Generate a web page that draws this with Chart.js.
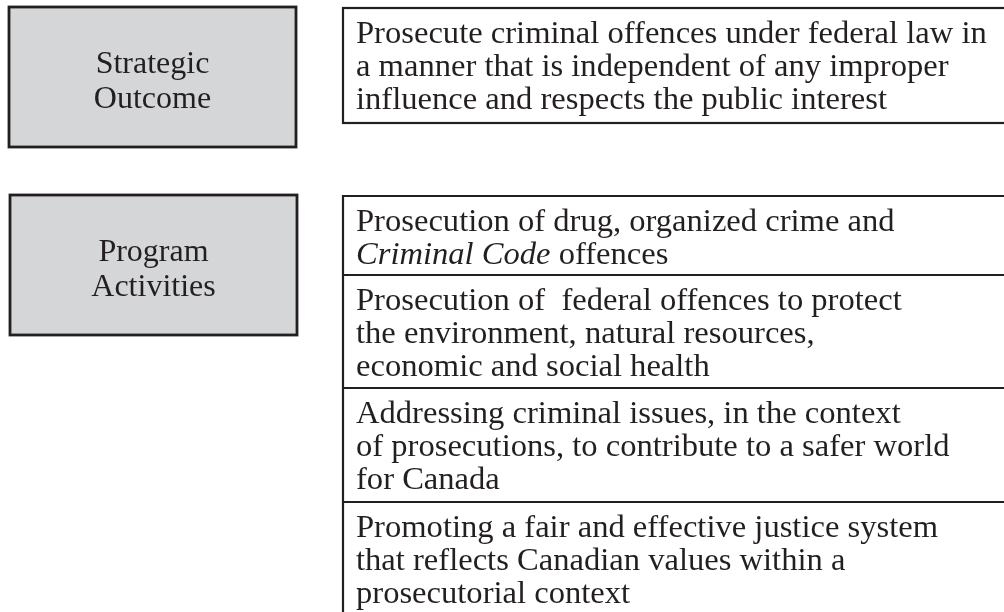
<!DOCTYPE html>
<html><head><meta charset="utf-8">
<script src="https://cdn.jsdelivr.net/npm/chart.js@4/dist/chart.umd.min.js"></script>
<style>html,body{margin:0;padding:0;background:#fff;overflow:hidden}#wrap{width:1004px;height:612px;position:relative}</style>
</head><body><div id="wrap"><canvas id="c"></canvas></div>
<script>
// Diagram content
const headings = [["Strategic", "Outcome"], ["Program", "Activities"]];
const outcomeLines = [
  "Prosecute criminal offences under federal law in",
  "a manner that is independent of any improper",
  "influence and respects the public interest"
];
const activityLines = [
  ["Prosecution of drug, organized crime and", "*Criminal Code* offences"],
  ["Prosecution of  federal offences to protect", "the environment, natural resources,", "economic and social health"],
  ["Addressing criminal issues, in the context", "of prosecutions, to contribute to a safer world", "for Canada"],
  ["Promoting a fair and effective justice system", "that reflects Canadian values within a", "prosecutorial context"]
];

const INK = '#231f20';
const GREY = '#d5d6d8';
const FONT = '"Liberation Serif", "Times New Roman", serif';
const SIZE = 32.6;
const HSIZE = 32;
const LH = 33;

function parseSegs(line) {
  const parts = line.split('*');
  return parts.map((t, i) => ({ t, it: i % 2 === 1 })).filter(s => s.t.length);
}
function drawLine(ctx, line, x, y) {
  let cx = x;
  parseSegs(line).forEach(s => {
    ctx.font = (s.it ? 'italic ' : '') + SIZE + 'px ' + FONT;
    ctx.fillText(s.t, cx, y);
    cx += ctx.measureText(s.t).width;
  });
}

const diagramPlugin = {
  id: 'diagram',
  afterDraw(chart) {
    const ctx = chart.ctx;
    const X = v => chart.scales.x.getPixelForValue(v);
    const Y = v => chart.scales.y.getPixelForValue(v);
    ctx.save();
    ctx.textBaseline = 'alphabetic';
    ctx.fillStyle = INK;

    // left grey boxes
    const leftBoxes = [[9, 7, 296, 147], [10, 195, 297, 335]];
    leftBoxes.forEach((b, i) => {
      const x0 = X(b[0]), y0 = Y(b[1]), x1 = X(b[2]), y1 = Y(b[3]);
      ctx.fillStyle = GREY;
      ctx.fillRect(x0, y0, x1 - x0, y1 - y0);
      ctx.lineWidth = 2.8;
      ctx.strokeStyle = INK;
      ctx.strokeRect(x0, y0, x1 - x0, y1 - y0);
      ctx.fillStyle = INK;
      ctx.font = HSIZE + 'px ' + FONT;
      ctx.textAlign = 'center';
      const cx = (x0 + x1) / 2;
      const lines = headings[i];
      const midBase = (y0 + y1) / 2 + 13;
      lines.forEach((l, k) => {
        ctx.fillText(l, cx, midBase + (k - (lines.length - 1) / 2) * 35);
      });
    });

    ctx.textAlign = 'left';
    ctx.strokeStyle = INK;
    ctx.lineWidth = 2.2;
    // outcome box
    const ox0 = X(343), oy0 = Y(8), oy1 = Y(123), ox1 = X(1010);
    ctx.strokeRect(ox0, oy0, ox1 - ox0, oy1 - oy0);
    ctx.fillStyle = INK;
    outcomeLines.forEach((l, k) => drawLine(ctx, l, X(356), Y(43 + k * LH)));

    // activities box
    const tops = [196, 275, 388, 502];
    ctx.beginPath();
    ctx.moveTo(X(1010), Y(196));
    ctx.lineTo(X(343), Y(196));
    ctx.lineTo(X(343), Y(620));
    tops.slice(1).forEach(t => { ctx.moveTo(X(343), Y(t)); ctx.lineTo(X(1010), Y(t)); });
    ctx.stroke();
    activityLines.forEach((sec, s) => {
      sec.forEach((l, k) => drawLine(ctx, l, X(356), Y(tops[s] + 35 + k * LH)));
    });
    ctx.restore();
  }
};

new Chart(document.getElementById('c'), {
  type: 'scatter',
  data: { datasets: [{ data: [] }] },
  options: {
    responsive: true,
    maintainAspectRatio: false,
    animation: false,
    layout: { padding: 0 },
    scales: {
      x: { type: 'linear', min: 0, max: 1004, display: false },
      y: { type: 'linear', min: 0, max: 612, reverse: true, display: false }
    },
    plugins: { legend: { display: false }, tooltip: { enabled: false } }
  },
  plugins: [diagramPlugin]
});
</script>
</body></html>
